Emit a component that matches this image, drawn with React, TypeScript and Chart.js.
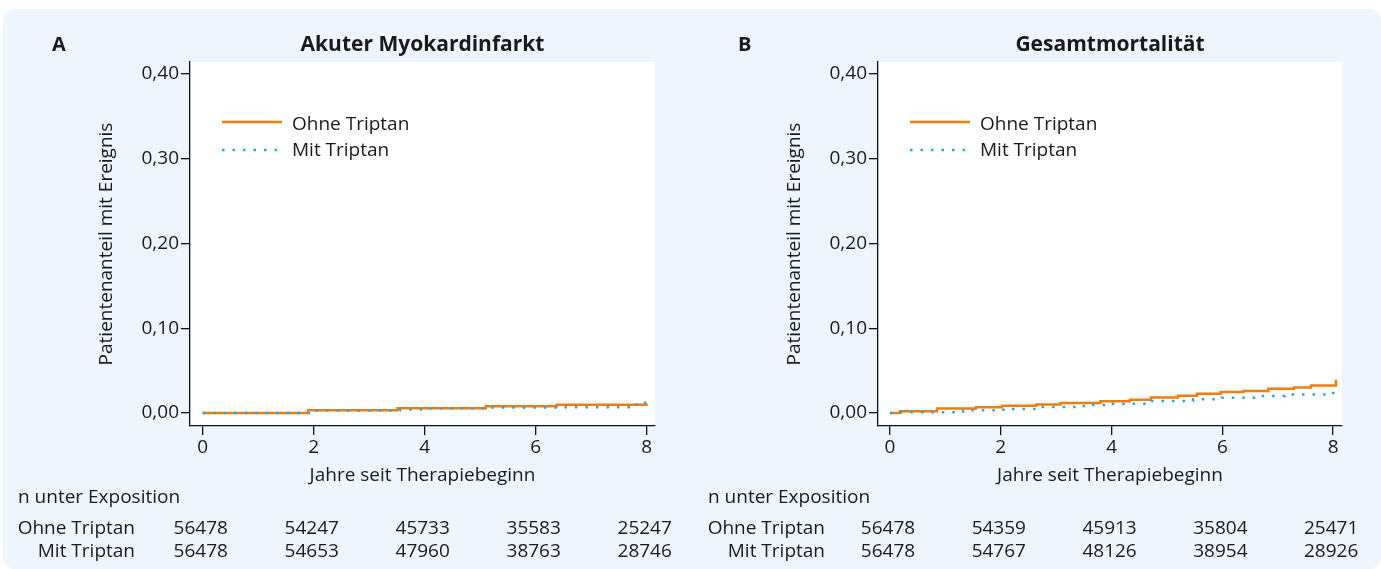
import React, { useEffect, useRef } from 'react';
import { Chart, registerables } from 'chart.js';

Chart.register(...registerables);

const FONT = '"Open Sans", "Noto Sans", sans-serif';
const TEXT = '#1a1a1a';
const ORANGE = '#f07d0c';
const BLUE = '#29a8e0';
const FS = 19;

const xTickValues = [0, 2, 4, 6, 8];
const yTickValues = [0, 0.1, 0.2, 0.3, 0.4];
const yTickLabels = ['0,00', '0,10', '0,20', '0,30', '0,40'];
const seriesNames = ['Ohne Triptan', 'Mit Triptan'];
const riskTitle = 'n unter Exposition';
const xAxisTitle = 'Jahre seit Therapiebeginn';
const yAxisTitle = 'Patientenanteil mit Ereignis';

// Panel A – Akuter Myokardinfarkt
const aYearsOhne = [0, 1.9, 3.51, 5.1, 6.38, 8.02];
const aRiskOhne = [0, 0.0034, 0.0057, 0.008, 0.0097, 0.0097];
const aYearsMit = [0, 1.95, 3.55, 4.05, 5.1, 6.4, 7.82, 8.05];
const aRiskMit = [0, 0.0031, 0.0041, 0.0055, 0.0064, 0.0068, 0.0122, 0.0122];
const aNOhne = [56478, 54247, 45733, 35583, 25247];
const aNMit = [56478, 54653, 47960, 38763, 28746];

// Panel B – Gesamtmortalität
const bYearsOhne = [0, 0.18, 0.85, 1.55, 2.02, 2.64, 3.08, 3.8, 4.33, 4.71, 5.2, 5.54, 5.97, 6.38, 6.83, 7.29, 7.6, 8.05];
const bRiskOhne = [0, 0.002, 0.0052, 0.0069, 0.0085, 0.0101, 0.0118, 0.0138, 0.0157, 0.0184, 0.0204, 0.0228, 0.0249, 0.026, 0.0285, 0.03, 0.0325, 0.0392];
const bYearsMit = [0, 0.18, 1.2, 1.32, 2.02, 2.17, 2.71, 3.46, 3.61, 3.96, 4.72, 5.47, 5.99, 6.68, 7.13, 7.87, 8.06];
const bRiskMit = [0, 0.0008, 0.0017, 0.0032, 0.004, 0.0047, 0.007, 0.0083, 0.0094, 0.011, 0.0142, 0.0162, 0.018, 0.02, 0.0218, 0.0236, 0.026];
const bNOhne = [56478, 54359, 45913, 35804, 25471];
const bNMit = [56478, 54767, 48126, 38954, 28926];

type PanelCfg = {
  letter: string;
  title: string;
  width: number;
  padLeft: number;
  padRight: number;
  letterX: number;
  xMin: number;
  xMax: number;
  yearsOhne: number[];
  riskOhne: number[];
  yearsMit: number[];
  riskMit: number[];
  nOhne: number[];
  nMit: number[];
};

const toPoints = (xs: number[], ys: number[]) => xs.map((x, i) => ({ x, y: ys[i] }));

function Panel({ cfg, left }: { cfg: PanelCfg; left: number }) {
  const ref = useRef<HTMLCanvasElement | null>(null);

  useEffect(() => {
    const canvas = ref.current;
    if (!canvas) return;

    const decor = {
      id: 'decor',
      beforeDraw(chart: any) {
        const { ctx, chartArea } = chart;
        ctx.save();
        ctx.fillStyle = '#ffffff';
        ctx.fillRect(chartArea.left, chartArea.top, chartArea.right - chartArea.left, chartArea.bottom - chartArea.top);
        ctx.restore();
      },
      afterDraw(chart: any) {
        const { ctx, chartArea } = chart;
        const xs = chart.scales.x;
        ctx.save();
        ctx.fillStyle = TEXT;
        // Panel letter and title
        ctx.font = `bold 20px ${FONT}`;
        ctx.textBaseline = 'middle';
        ctx.textAlign = 'left';
        ctx.fillText(cfg.letter, cfg.letterX, 45);
        ctx.font = `bold 21px ${FONT}`;
        ctx.textAlign = 'center';
        ctx.fillText(cfg.title, (chartArea.left + chartArea.right) / 2, 45);

        // Legend
        const lx = chartArea.left + 32;
        ctx.lineWidth = 2.5;
        ctx.strokeStyle = ORANGE;
        ctx.beginPath();
        ctx.moveTo(lx, 122);
        ctx.lineTo(lx + 60, 122);
        ctx.stroke();
        ctx.strokeStyle = BLUE;
        ctx.lineWidth = 2.5;
        ctx.setLineDash([2.5, 8]);
        ctx.beginPath();
        ctx.moveTo(lx, 150);
        ctx.lineTo(lx + 62, 150);
        ctx.stroke();
        ctx.setLineDash([]);
        ctx.font = `${FS}px ${FONT}`;
        ctx.textAlign = 'left';
        ctx.fillText(seriesNames[0], lx + 70, 125);
        ctx.fillText(seriesNames[1], lx + 70, 151);

        // Risk table
        ctx.fillText(riskTitle, 18, 498);
        ctx.textAlign = 'right';
        ctx.fillText(seriesNames[0], 135, 529);
        ctx.fillText(seriesNames[1], 135, 552);
        ctx.textAlign = 'center';
        xTickValues.forEach((v, i) => {
          const px = xs.getPixelForValue(v);
          ctx.fillText(String(cfg.nOhne[i]), px - 2, 529);
          ctx.fillText(String(cfg.nMit[i]), px - 2, 552);
        });
        ctx.restore();
      },
    };

    const chart = new Chart(canvas, {
      type: 'line',
      data: {
        datasets: [
          {
            label: seriesNames[1],
            data: toPoints(cfg.yearsMit, cfg.riskMit),
            borderColor: BLUE,
            borderWidth: 2.5,
            borderDash: [2.5, 8],
            stepped: 'before',
            pointRadius: 0,
            fill: false,
          },
          {
            label: seriesNames[0],
            data: toPoints(cfg.yearsOhne, cfg.riskOhne),
            borderColor: ORANGE,
            borderWidth: 2.5,
            stepped: 'before',
            pointRadius: 0,
            fill: false,
          },
        ],
      },
      options: {
        responsive: false,
        animation: false,
        events: [],
        layout: { padding: { left: cfg.padLeft, right: cfg.padRight, top: 62, bottom: 82 } },
        plugins: { legend: { display: false }, title: { display: false }, tooltip: { enabled: false } },
        scales: {
          x: {
            type: 'linear',
            min: cfg.xMin,
            max: cfg.xMax,
            afterFit: (s: any) => { s.height = 61; },
            afterBuildTicks: (s: any) => { s.ticks = xTickValues.map((v) => ({ value: v })); },
            grid: { drawOnChartArea: false, drawTicks: true, tickLength: 9, color: '#111', lineWidth: 1.3 },
            border: { display: true, color: '#111', width: 1.3 },
            ticks: { color: TEXT, font: { family: FONT, size: FS }, padding: 1, maxRotation: 0, autoSkip: false },
            title: { display: true, text: xAxisTitle, color: TEXT, font: { family: FONT, size: FS }, padding: 0 },
          },
          y: {
            type: 'linear',
            min: -0.0153,
            max: 0.414,
            afterFit: (s: any) => { s.width = 190 - 95; },
            afterBuildTicks: (s: any) => { s.ticks = yTickValues.map((v) => ({ value: v })); },
            grid: { drawOnChartArea: false, drawTicks: true, tickLength: 9, color: '#111', lineWidth: 1.3 },
            border: { display: true, color: '#111', width: 1.3 },
            ticks: {
              color: TEXT,
              font: { family: FONT, size: FS },
              padding: 2,
              autoSkip: false,
              callback: (v: any) => {
                const i = yTickValues.findIndex((t) => Math.abs(t - Number(v)) < 1e-9);
                return i >= 0 ? yTickLabels[i] : '';
              },
            },
            title: { display: true, text: yAxisTitle, color: TEXT, font: { family: FONT, size: FS }, padding: 0 },
          },
        },
      },
      plugins: [decor],
    });

    return () => chart.destroy();
  }, [cfg]);

  return (
    <canvas
      ref={ref}
      width={cfg.width}
      height={569}
      style={{ position: 'absolute', left, top: 0, width: cfg.width, height: 569 }}
    />
  );
}

const panelA: PanelCfg = {
  letter: 'A',
  title: 'Akuter Myokardinfarkt',
  width: 690,
  padLeft: 95,
  padRight: 35,
  letterX: 52,
  xMin: -0.229,
  xMax: 8.15,
  yearsOhne: aYearsOhne,
  riskOhne: aRiskOhne,
  yearsMit: aYearsMit,
  riskMit: aRiskMit,
  nOhne: aNOhne,
  nMit: aNMit,
};

const panelB: PanelCfg = {
  letter: 'B',
  title: 'Gesamtmortalität',
  width: 691,
  padLeft: 93,
  padRight: 39,
  letterX: 48,
  xMin: -0.217,
  xMax: 8.16,
  yearsOhne: bYearsOhne,
  riskOhne: bRiskOhne,
  yearsMit: bYearsMit,
  riskMit: bRiskMit,
  nOhne: bNOhne,
  nMit: bNMit,
};

export default function App() {
  return (
    <div style={{ position: 'fixed', left: 0, top: 0, width: 1381, height: 569, background: '#ffffff' }}>
      <div
        style={{
          position: 'absolute',
          left: 3,
          top: 9,
          width: 1378,
          height: 560,
          borderRadius: 12,
          background: '#eef5fc',
        }}
      />
      <Panel cfg={panelA} left={0} />
      <Panel cfg={panelB} left={690} />
    </div>
  );
}
